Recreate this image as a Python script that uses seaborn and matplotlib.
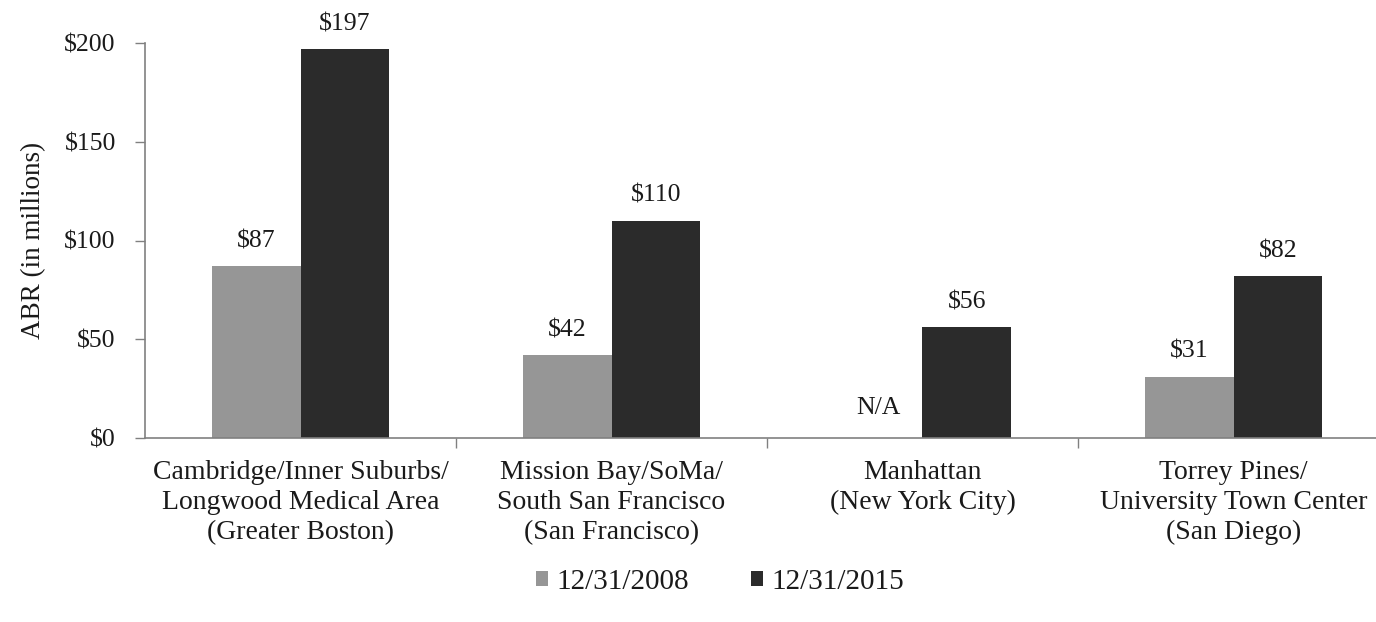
import numpy as np
import pandas as pd
import matplotlib
matplotlib.use('Agg')
import matplotlib.pyplot as plt
import seaborn as sns

# data
regions = ['Cambridge/Inner Suburbs/\nLongwood Medical Area\n(Greater Boston)',
           'Mission Bay/SoMa/\nSouth San Francisco\n(San Francisco)',
           'Manhattan\n(New York City)',
           'Torrey Pines/\nUniversity Town Center\n(San Diego)']
dates = ['12/31/2008', '12/31/2015']
abr_2008 = [87, 42, None, 31]
abr_2015 = [197, 110, 56, 82]
colors = ['#969696', '#2b2b2b']

df = pd.DataFrame({
    'region': regions * 2,
    'date': [dates[0]] * 4 + [dates[1]] * 4,
    'abr': abr_2008 + abr_2015,
})
df['plot_abr'] = df['abr'].fillna(0)

sns.set_style('white')
plt.rcParams['font.family'] = ['Liberation Serif', 'DejaVu Serif']
txt_color = '#1a1a1a'

fig = plt.figure(figsize=(13.76, 6.22), dpi=100)
ax = fig.add_axes([145 / 1376, (622 - 438) / 622, 1244 / 1376, 395 / 622])

sns.barplot(data=df, x='region', y='plot_abr', hue='date', palette=colors,
            width=0.572, gap=0, saturation=1, edgecolor='none', ax=ax)

# value labels, N/A sits a bit higher
for cont, vals in zip(ax.containers, [abr_2008, abr_2015]):
    labels = ['' if v is None else f'${v}' for v in vals]
    ax.bar_label(cont, labels=labels, padding=10, fontsize=18.5, color=txt_color)
    for bar, v in zip(cont, vals):
        if v is None:
            ax.annotate('N/A', (bar.get_x() + bar.get_width() / 2, 0),
                        xytext=(0, 14), textcoords='offset points',
                        ha='center', va='bottom', fontsize=18.5, color=txt_color)

ax.set_ylim(0, 200)
ax.set_xlim(-0.5, 3.5)
ax.set_yticks([0, 50, 100, 150, 200])
ax.set_yticklabels(['$0', '$50', '$100', '$150', '$200'])
ax.set_ylabel('ABR (in millions)', fontsize=19.5, labelpad=13, color=txt_color)
ax.set_xlabel('')

ax.tick_params(axis='y', labelsize=18.5, length=7, width=1, color='#808080',
               direction='out', left=True, pad=14, labelcolor=txt_color)
ax.tick_params(axis='x', which='major', labelsize=20, length=0, pad=16,
               labelcolor=txt_color)
ax.set_xticks([0.5, 1.5, 2.5], minor=True)
ax.tick_params(axis='x', which='minor', length=7, width=1, color='#808080',
               direction='out', bottom=True)
for lbl in ax.get_xticklabels():
    lbl.set_linespacing(1.25)

sns.despine(ax=ax)
for s in ['left', 'bottom']:
    ax.spines[s].set_color('#808080')
    ax.spines[s].set_linewidth(1.2)

handles, labs = ax.get_legend_handles_labels()
ax.legend_.remove()
fig.legend(handles, labs, loc='center', bbox_to_anchor=(720 / 1376, 1 - 582 / 622),
           ncol=2, frameon=False, fontsize=21, handlelength=0.42,
           handleheight=0.42, handletextpad=0.3, columnspacing=2.1,
           labelcolor=txt_color)

fig.savefig('out.png', dpi=100)
